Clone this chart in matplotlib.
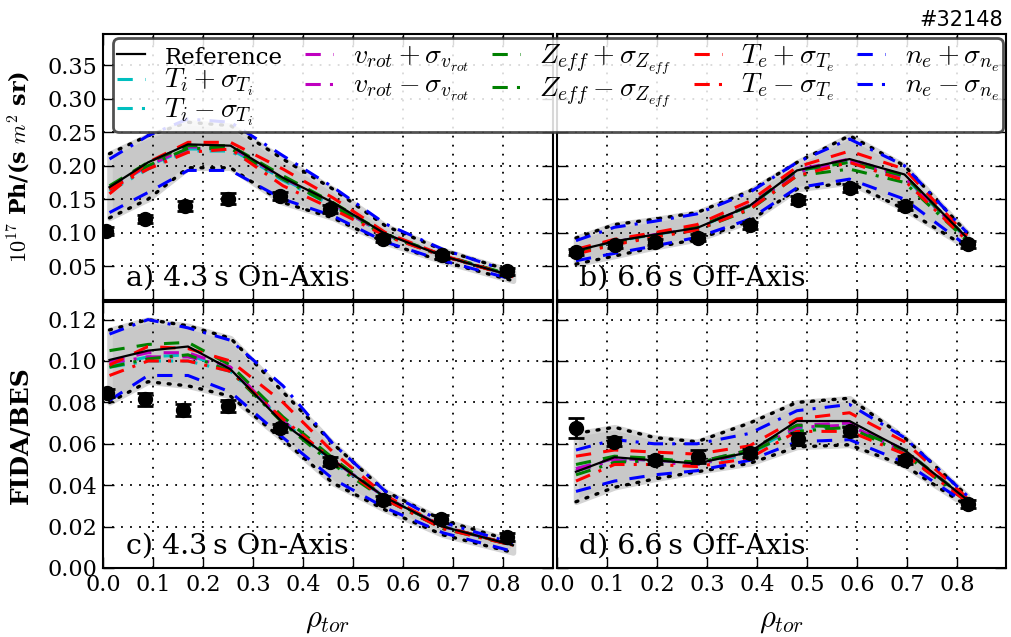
import matplotlib
matplotlib.use("Agg")
import matplotlib.pyplot as plt
import numpy as np

plt.rcParams['font.family'] = ['DejaVu Serif']
plt.rcParams['mathtext.fontset'] = 'cm'
plt.rcParams['axes.unicode_minus'] = False

# ---------------- data ----------------
x_model_left = [0.013, 0.09, 0.17, 0.255, 0.36, 0.46, 0.565, 0.68, 0.82]
x_model_right = [0.038, 0.115, 0.195, 0.28, 0.385, 0.48, 0.585, 0.695, 0.82]

# Panel a) 4.3 s On-Axis (absolute)
a_x_meas = [0.005, 0.083, 0.163, 0.25, 0.353, 0.453, 0.56, 0.677, 0.807]
a_meas = [0.102, 0.121, 0.14, 0.151, 0.155, 0.136, 0.091, 0.066, 0.042]
a_err = [0.006, 0.006, 0.007, 0.008, 0.006, 0.006, 0.005, 0.005, 0.005]
a_ref = [0.168, 0.205, 0.232, 0.230, 0.182, 0.145, 0.098, 0.065, 0.035]
a_upper = [0.218, 0.245, 0.265, 0.26, 0.21, 0.165, 0.11, 0.074, 0.042]
a_lower = [0.122, 0.15, 0.197, 0.197, 0.145, 0.122, 0.085, 0.057, 0.028]
a_ti_p = [0.165, 0.2, 0.225, 0.225, 0.18, 0.142, 0.097, 0.066, 0.035]
a_ti_m = [0.162, 0.195, 0.222, 0.222, 0.178, 0.14, 0.096, 0.065, 0.035]
a_vr_p = [0.167, 0.2, 0.228, 0.228, 0.182, 0.143, 0.097, 0.066, 0.035]
a_vr_m = [0.165, 0.198, 0.225, 0.226, 0.18, 0.142, 0.097, 0.065, 0.035]
a_ze_p = [0.17, 0.205, 0.23, 0.23, 0.185, 0.145, 0.098, 0.066, 0.036]
a_ze_m = [0.165, 0.2, 0.226, 0.226, 0.18, 0.14, 0.096, 0.065, 0.035]
a_te_p = [0.158, 0.205, 0.235, 0.235, 0.195, 0.152, 0.1, 0.066, 0.034]
a_te_m = [0.165, 0.195, 0.22, 0.225, 0.17, 0.135, 0.095, 0.065, 0.035]
a_ne_p = [0.13, 0.16, 0.193, 0.193, 0.15, 0.125, 0.086, 0.058, 0.03]
a_ne_m = [0.21, 0.245, 0.27, 0.265, 0.215, 0.168, 0.113, 0.075, 0.04]

# Panel b) 6.6 s Off-Axis (absolute)
b_x_meas = [0.038, 0.115, 0.195, 0.281, 0.385, 0.481, 0.585, 0.695, 0.821]
b_meas = [0.071, 0.0815, 0.086, 0.0925, 0.111, 0.149, 0.166, 0.140, 0.0825]
b_err = [0.005, 0.005, 0.005, 0.005, 0.005, 0.006, 0.006, 0.006, 0.005]
b_ref = [0.073, 0.087, 0.097, 0.107, 0.14, 0.193, 0.21, 0.187, 0.092]
b_upper = [0.092, 0.112, 0.12, 0.13, 0.162, 0.205, 0.245, 0.2, 0.1]
b_lower = [0.053, 0.065, 0.078, 0.09, 0.117, 0.165, 0.175, 0.135, 0.078]
b_ti_p = [0.073, 0.087, 0.097, 0.107, 0.14, 0.192, 0.207, 0.183, 0.091]
b_ti_m = [0.072, 0.086, 0.096, 0.106, 0.138, 0.19, 0.205, 0.18, 0.09]
b_vr_p = [0.073, 0.088, 0.098, 0.108, 0.141, 0.194, 0.21, 0.185, 0.092]
b_vr_m = [0.072, 0.086, 0.097, 0.106, 0.139, 0.191, 0.207, 0.183, 0.091]
b_ze_p = [0.074, 0.088, 0.098, 0.108, 0.14, 0.193, 0.205, 0.185, 0.092]
b_ze_m = [0.07, 0.084, 0.094, 0.104, 0.134, 0.185, 0.195, 0.175, 0.088]
b_te_p = [0.075, 0.09, 0.1, 0.112, 0.147, 0.198, 0.222, 0.195, 0.095]
b_te_m = [0.068, 0.082, 0.093, 0.104, 0.135, 0.185, 0.205, 0.178, 0.088]
b_ne_p = [0.058, 0.069, 0.08, 0.093, 0.12, 0.167, 0.18, 0.15, 0.08]
b_ne_m = [0.088, 0.108, 0.117, 0.128, 0.16, 0.205, 0.24, 0.2, 0.1]

# Panel c) 4.3 s On-Axis (FIDA/BES)
c_x_meas = [0.007, 0.083, 0.16, 0.25, 0.353, 0.453, 0.56, 0.675, 0.807]
c_meas = [0.0847, 0.0815, 0.0762, 0.0782, 0.0676, 0.0514, 0.033, 0.0237, 0.0151]
c_err = [0.002, 0.003, 0.003, 0.003, 0.002, 0.002, 0.002, 0.002, 0.002]
c_ref = [0.1005, 0.105, 0.107, 0.096, 0.07, 0.052, 0.034, 0.02, 0.011]
c_upper = [0.115, 0.12, 0.117, 0.111, 0.085, 0.06, 0.037, 0.023, 0.013]
c_lower = [0.08, 0.09, 0.088, 0.083, 0.062, 0.041, 0.028, 0.016, 0.0075]
c_ti_p = [0.098, 0.102, 0.103, 0.096, 0.071, 0.052, 0.034, 0.02, 0.011]
c_ti_m = [0.097, 0.1, 0.1, 0.095, 0.071, 0.051, 0.034, 0.02, 0.011]
c_vr_p = [0.1, 0.104, 0.104, 0.097, 0.071, 0.052, 0.034, 0.02, 0.011]
c_vr_m = [0.099, 0.102, 0.102, 0.097, 0.071, 0.052, 0.034, 0.02, 0.011]
c_ze_p = [0.105, 0.108, 0.109, 0.098, 0.073, 0.053, 0.034, 0.02, 0.011]
c_ze_m = [0.097, 0.101, 0.103, 0.095, 0.07, 0.05, 0.033, 0.019, 0.011]
c_te_p = [0.098, 0.107, 0.106, 0.1, 0.08, 0.056, 0.035, 0.02, 0.011]
c_te_m = [0.093, 0.1, 0.1, 0.095, 0.072, 0.052, 0.033, 0.019, 0.011]
c_ne_p = [0.081, 0.093, 0.093, 0.085, 0.063, 0.043, 0.029, 0.017, 0.008]
c_ne_m = [0.113, 0.12, 0.116, 0.11, 0.088, 0.06, 0.037, 0.022, 0.012]

# Panel d) 6.6 s Off-Axis (FIDA/BES)
d_x_meas = [0.038, 0.113, 0.195, 0.281, 0.385, 0.481, 0.585, 0.695, 0.821]
d_meas = [0.0676, 0.0611, 0.0522, 0.0538, 0.0554, 0.0622, 0.066, 0.0522, 0.031]
d_err = [0.005, 0.002, 0.002, 0.003, 0.002, 0.003, 0.002, 0.002, 0.002]
d_ref = [0.0465, 0.0535, 0.052, 0.0505, 0.056, 0.071, 0.071, 0.057, 0.033]
d_upper = [0.065, 0.068, 0.063, 0.061, 0.07, 0.08, 0.082, 0.063, 0.035]
d_lower = [0.032, 0.039, 0.043, 0.0465, 0.0505, 0.0585, 0.0595, 0.0495, 0.030]
d_ti_p = [0.048, 0.053, 0.052, 0.051, 0.056, 0.068, 0.07, 0.057, 0.033]
d_ti_m = [0.047, 0.052, 0.052, 0.05, 0.055, 0.067, 0.069, 0.056, 0.033]
d_vr_p = [0.048, 0.053, 0.052, 0.051, 0.057, 0.069, 0.07, 0.057, 0.033]
d_vr_m = [0.047, 0.052, 0.051, 0.05, 0.056, 0.068, 0.069, 0.056, 0.033]
d_ze_p = [0.05, 0.054, 0.053, 0.051, 0.057, 0.069, 0.068, 0.057, 0.033]
d_ze_m = [0.045, 0.051, 0.052, 0.051, 0.056, 0.066, 0.068, 0.055, 0.032]
d_te_p = [0.054, 0.057, 0.056, 0.055, 0.059, 0.072, 0.075, 0.061, 0.034]
d_te_m = [0.042, 0.05, 0.05, 0.049, 0.053, 0.066, 0.066, 0.055, 0.032]
d_ne_p = [0.037, 0.042, 0.045, 0.047, 0.052, 0.061, 0.062, 0.051, 0.031]
d_ne_m = [0.057, 0.062, 0.06, 0.06, 0.065, 0.076, 0.079, 0.063, 0.035]

panel_titles = ['a) 4.3\u2009s On-Axis', 'b) 6.6\u2009s Off-Axis',
                'c) 4.3\u2009s On-Axis', 'd) 6.6\u2009s Off-Axis']
legend_labels = ['Reference',
                 r'$T_i + \sigma_{T_i}$', r'$T_i - \sigma_{T_i}$',
                 r'$v_{rot} + \sigma_{v_{rot}}$', r'$v_{rot} - \sigma_{v_{rot}}$',
                 r'$Z_{eff} + \sigma_{Z_{eff}}$', r'$Z_{eff} - \sigma_{Z_{eff}}$',
                 r'$T_e + \sigma_{T_e}$', r'$T_e - \sigma_{T_e}$',
                 r'$n_e + \sigma_{n_e}$', r'$n_e - \sigma_{n_e}$']
var_colors = ['#00bfbf', '#00bfbf', '#bf00bf', '#bf00bf', '#008000', '#008000',
              '#ff0000', '#ff0000', '#0000ff', '#0000ff']
x_ticks = [0.0, 0.1, 0.2, 0.3, 0.4, 0.5, 0.6, 0.7, 0.8]
y_ticks_top = [0.05, 0.10, 0.15, 0.20, 0.25, 0.30, 0.35]
y_ticks_bottom = [0.00, 0.02, 0.04, 0.06, 0.08, 0.10, 0.12]

panels = [
    dict(xm=x_model_left, xd=a_x_meas, d=a_meas, e=a_err, ref=a_ref, up=a_upper, lo=a_lower,
         var=[a_ti_p, a_ti_m, a_vr_p, a_vr_m, a_ze_p, a_ze_m, a_te_p, a_te_m, a_ne_p, a_ne_m]),
    dict(xm=x_model_right, xd=b_x_meas, d=b_meas, e=b_err, ref=b_ref, up=b_upper, lo=b_lower,
         var=[b_ti_p, b_ti_m, b_vr_p, b_vr_m, b_ze_p, b_ze_m, b_te_p, b_te_m, b_ne_p, b_ne_m]),
    dict(xm=x_model_left, xd=c_x_meas, d=c_meas, e=c_err, ref=c_ref, up=c_upper, lo=c_lower,
         var=[c_ti_p, c_ti_m, c_vr_p, c_vr_m, c_ze_p, c_ze_m, c_te_p, c_te_m, c_ne_p, c_ne_m]),
    dict(xm=x_model_right, xd=d_x_meas, d=d_meas, e=d_err, ref=d_ref, up=d_upper, lo=d_lower,
         var=[d_ti_p, d_ti_m, d_vr_p, d_vr_m, d_ze_p, d_ze_m, d_te_p, d_te_m, d_ne_p, d_ne_m]),
]

# ---------------- figure ----------------
W, H = 1011, 637
fig = plt.figure(figsize=(W / 100, H / 100), dpi=100)

def px_axes(x0, y0, x1, y1):
    return fig.add_axes([x0 / W, 1 - y1 / H, (x1 - x0) / W, (y1 - y0) / H])

axes = [px_axes(103, 34, 553, 299.5), px_axes(557, 34, 1006, 299.5),
        px_axes(103, 302, 553, 568), px_axes(557, 302, 1006, 568)]

dash_p = (5, 4)
dash_m = (5, 3, 1, 3)
handles = None
for i, (ax, p) in enumerate(zip(axes, panels)):
    ax.fill_between(p['xm'], p['lo'], p['up'], facecolor='#c8c8c8',
                    edgecolor='#d4d4d4', linewidth=4, zorder=1)
    ax.plot(p['xm'], p['up'], color='black', lw=2.4, linestyle=(0, (0.6, 2.6)),
            dash_capstyle='round', zorder=2)
    ax.plot(p['xm'], p['lo'], color='black', lw=2.4, linestyle=(0, (0.6, 2.6)),
            dash_capstyle='round', zorder=2)
    hs = []
    for k, (vals, col) in enumerate(zip(p['var'], var_colors)):
        ds = dash_p if k % 2 == 0 else dash_m
        h, = ax.plot(p['xm'], vals, color=col, lw=2.2, dashes=ds, zorder=3)
        hs.append(h)
    href, = ax.plot(p['xm'], p['ref'], color='black', lw=1.6, zorder=4)
    ax.errorbar(p['xd'], p['d'], yerr=p['e'], fmt='o', color='black', ms=10,
                elinewidth=2, capsize=6, capthick=2, zorder=5)
    if i == 0:
        handles = [href] + hs

    ax.set_xticks(x_ticks)
    ax.grid(True, color='black', linestyle=(0, (1, 4)), linewidth=1.3)
    ax.tick_params(direction='in', top=True, right=True, length=8, width=1,
                   labelsize=16, pad=4)
    for s in ax.spines.values():
        s.set_linewidth(1.5)
    ax.text(0.05, 0.03, panel_titles[i],
            transform=ax.transAxes, fontsize=20.5, ha='left', va='bottom')

for ax in axes[:2]:
    ax.set_ylim(0, 0.397)
    ax.set_yticks(y_ticks_top)
    ax.set_xticklabels([])
for ax in axes[2:]:
    ax.set_ylim(0, 0.1285)
    ax.set_yticks(y_ticks_bottom)
    ax.set_xticklabels(['%.1f' % v for v in x_ticks])
    ax.set_xlabel(r'$\rho_{tor}$', fontsize=22, labelpad=6)
for ax in [axes[0], axes[2]]:
    ax.set_xlim(0, 0.9)
for ax in [axes[1], axes[3]]:
    ax.set_xlim(0, 0.898)
    ax.set_yticklabels([])
axes[0].set_yticklabels(['%.2f' % v for v in y_ticks_top])
axes[2].set_yticklabels(['%.2f' % v for v in y_ticks_bottom])

axes[0].set_ylabel(r'$\mathbf{10^{17}}$ Ph/(s $m^2$ sr)', fontsize=16,
                   fontweight='bold')
axes[2].set_ylabel('FIDA/BES', fontsize=18, fontweight='bold')
axes[0].yaxis.set_label_coords(-0.155, 0.5)
axes[2].yaxis.set_label_coords(-0.155, 0.5)

leg = fig.legend(handles, legend_labels, ncol=5, loc='upper left',
                 bbox_to_anchor=(113 / W, 1 - 131 / H, (1003 - 113) / W, (131 - 38) / H),
                 mode='expand', fontsize=20, handlelength=1.0, handletextpad=0.7,
                 labelspacing=-0.05, borderaxespad=0.0, fancybox=True,
                 framealpha=0.85, borderpad=0.15, columnspacing=0.8)
for t in leg.get_texts():
    if t.get_text() == 'Reference':
        t.set_fontsize(16.5)
leg.get_frame().set_edgecolor('#333333')
leg.get_frame().set_linewidth(2)
leg.set_zorder(10)

fig.text(1003 / W, 1 - 20 / H, '#32148', ha='right', va='center',
         fontsize=15, family='DejaVu Sans')

fig.savefig('out.png', dpi=100)
